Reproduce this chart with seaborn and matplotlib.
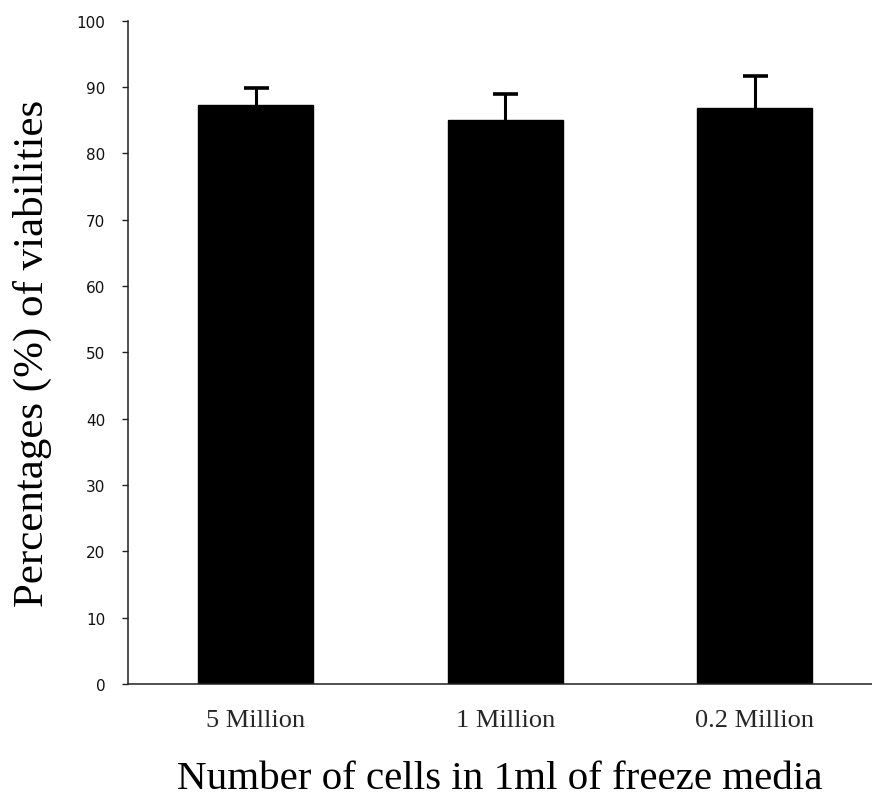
import matplotlib
matplotlib.use("Agg")
import matplotlib.pyplot as plt
import seaborn as sns
import pandas as pd
import numpy as np

categories = ["5 Million", "1 Million", "0.2 Million"]
viability = [87.3, 85.0, 86.8]
error_up = [2.6, 3.9, 4.8]
y_ticks = [0, 10, 20, 30, 40, 50, 60, 70, 80, 90, 100]

sns.set_theme(style="white")
plt.rcParams["font.family"] = ["Liberation Serif", "DejaVu Serif"]

df = pd.DataFrame({"cells": categories, "viability": viability})

fig = plt.figure(figsize=(8.72, 8.03), dpi=100)
ax = fig.add_axes([0.1471, 0.1469, 0.8529, 0.826])

sns.barplot(data=df, x="cells", y="viability", color="black", width=0.46,
            saturation=1, errorbar=None, ax=ax, edgecolor="black", zorder=2)

ax.errorbar(np.arange(len(categories)), viability, yerr=error_up,
            fmt="none", ecolor="black", elinewidth=2.2, capsize=9, capthick=2.6, zorder=1)

ax.set_ylim(0, 100)
ax.set_xlim(-0.51, 2.47)
ax.set_yticks(y_ticks)
ax.set_yticklabels([str(t) for t in y_ticks], fontfamily="DejaVu Sans", fontsize=11, color="#111111")
ax.tick_params(axis="y", direction="out", length=4.5, width=1, color="#222222", pad=12, left=True)
ax.tick_params(axis="x", length=0, pad=18, labelsize=19)

for s in ["top", "right"]:
    ax.spines[s].set_visible(False)
for s in ["left", "bottom"]:
    ax.spines[s].set_color("#222222")
    ax.spines[s].set_linewidth(1.1)
    ax.spines[s].set_zorder(3)

ax.set_xlabel("Number of cells in 1ml of freeze media", fontsize=29.5, color="black")
ax.set_ylabel("Percentages (%) of viabilities", fontsize=31, color="black")
ax.xaxis.set_label_coords(0.5, -0.115)
ax.yaxis.set_label_coords(-0.103, 0.5)

fig.savefig("out.png", dpi=100, facecolor="white")
